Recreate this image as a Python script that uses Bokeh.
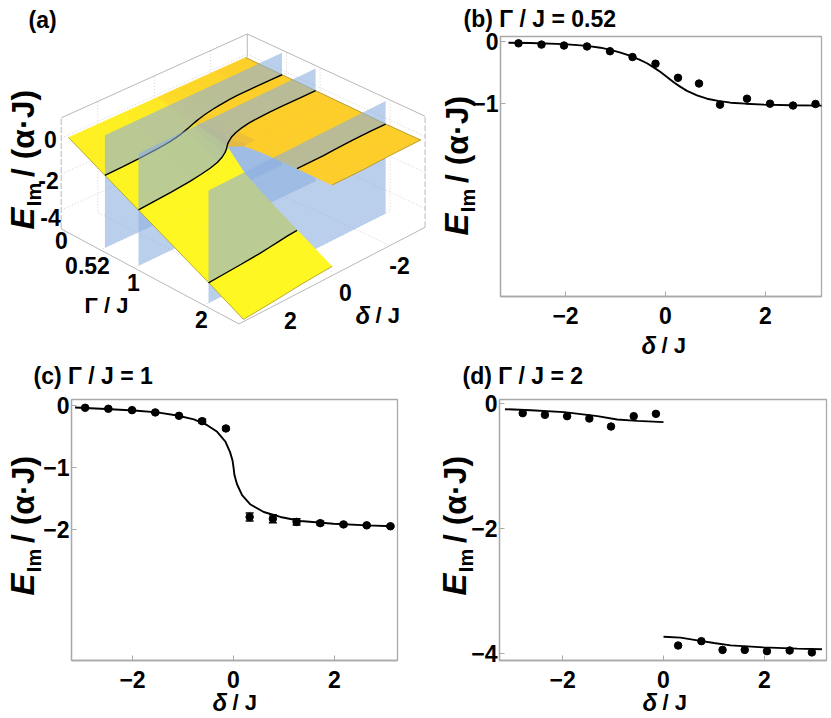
import math
from bokeh.plotting import figure
from bokeh.models import Label, FixedTicker, Range1d
from bokeh.embed import file_html
from bokeh.resources import INLINE

# ---------- data ----------
b_delta = [-2.94, -2.48, -2.03, -1.57, -1.11, -0.66, -0.20, 0.25, 0.67, 1.09, 1.63, 2.09, 2.55, 3.00]
b_E = [-0.03, -0.05, -0.065, -0.08, -0.157, -0.25, -0.357, -0.584, -0.676, -1.016, -0.92, -1.0, -1.03, -1.005]
b_curve_delta = [-3.14, -2.7, -2.03, -1.57, -1.3, -1.1, -0.9, -0.7, -0.5, -0.37, -0.23, -0.1, 0.03, 0.17, 0.3, 0.43, 0.63, 0.83, 1.05, 1.3, 1.6, 1.97, 2.5, 3.14]
b_curve_E = [-0.02, -0.024, -0.043, -0.07, -0.1, -0.135, -0.18, -0.232, -0.3, -0.35, -0.42, -0.49, -0.57, -0.66, -0.73, -0.795, -0.865, -0.92, -0.955, -0.984, -1.0, -1.016, -1.026, -1.032]

c_delta = [-2.94, -2.48, -2.01, -1.55, -1.08, -0.62, -0.15, 0.32, 0.78, 1.25, 1.72, 2.18, 2.64, 3.11]
c_E = [-0.043, -0.059, -0.081, -0.118, -0.172, -0.258, -0.376, -1.80, -1.83, -1.88, -1.90, -1.92, -1.935, -1.95]
c_err = [0.01, 0.01, 0.01, 0.015, 0.015, 0.03, 0.02, 0.065, 0.065, 0.05, 0.03, 0.02, 0.015, 0.015]
c_curve_delta = [-3.14, -2.63, -1.97, -1.51, -1.115, -0.785, -0.52, -0.323, -0.158, -0.07, -0.02, 0.0, 0.02, 0.07, 0.17, 0.337, 0.6, 0.93, 1.33, 1.98, 2.65, 3.14]
c_curve_E = [-0.038, -0.059, -0.086, -0.118, -0.167, -0.231, -0.323, -0.43, -0.59, -0.753, -0.887, -1.0, -1.13, -1.274, -1.45, -1.6, -1.72, -1.8, -1.866, -1.91, -1.935, -1.95]

d_delta = [-2.79, -2.35, -1.91, -1.47, -1.04, -0.59, -0.15, 0.29, 0.75, 1.17, 1.61, 2.05, 2.5, 2.94]
d_E = [-0.149, -0.176, -0.197, -0.235, -0.363, -0.197, -0.16, -3.87, -3.80, -3.94, -3.94, -3.96, -3.95, -3.98]
d_upper_delta = [-3.14, -2.63, -1.97, -1.31, -0.92, -0.52, 0.0]
d_upper_E = [-0.085, -0.101, -0.133, -0.197, -0.251, -0.272, -0.293]
d_lower_delta = [0.0, 0.337, 0.67, 1.0, 1.33, 1.98, 2.65, 3.14]
d_lower_E = [-3.73, -3.744, -3.787, -3.83, -3.867, -3.90, -3.92, -3.93]

# surface of panel (a): E on a grid of gamma rows and delta columns (0 appears twice: the two branches)
surf_delta = [-3.14, -2.0, -1.2, -0.7, -0.35, -0.1, 0.0, 0.0, 0.1, 0.35, 0.7, 1.2, 2.0, 3.14]
surf_gamma = [0.0, 0.52, 1.0, 1.25, 1.5, 2.0, 2.5]
surf_E = [
    [0.0] * 14,
    [-0.02, -0.045, -0.12, -0.23, -0.35, -0.47, -0.52, -0.52, -0.57, -0.69, -0.81, -0.92, -0.995, -1.02],
    [-0.035, -0.09, -0.15, -0.26, -0.41, -0.67, -1.0, -1.0, -1.33, -1.59, -1.74, -1.85, -1.91, -1.965],
    [-0.05, -0.11, -0.2, -0.31, -0.42, -0.49, -0.5, -2.0, -2.01, -2.08, -2.19, -2.3, -2.39, -2.45],
    [-0.06, -0.12, -0.22, -0.3, -0.36, -0.38, -0.38, -2.62, -2.62, -2.64, -2.7, -2.78, -2.88, -2.94],
    [-0.085, -0.15, -0.24, -0.27, -0.285, -0.29, -0.29, -3.71, -3.71, -3.715, -3.73, -3.76, -3.85, -3.915],
    [-0.07, -0.13, -0.2, -0.22, -0.23, -0.235, -0.24, -4.76, -4.765, -4.77, -4.78, -4.8, -4.87, -4.93],
]
plane_gamma = [0.52, 1.0, 2.0]
plane_top_E = 1.2
plane_bottom_E = -5.05
gamma_ticks = [0.52, 1.0, 2.0]
delta_ticks = [-2, 0, 2]
E_ticks = [0, -2, -4]

FONT = "Liberation Sans"
GREY = "#a9a9a9"
BLUE = "#8cafdf"


def proj(g, d, e):
    x = 68 + 70 * g + 28.2 * (3.14 - d)
    y = 57 + 12.74 * (d + 3.14) + (32.5 + 0.76 * (d + 3.14)) * g - 18 * e
    y -= 4 * min(max(g, 0), 1) * max(0, 1 - abs(d) / 3.14)
    return x, y


def poly(pts):
    xs, ys = zip(*[proj(*q) for q in pts])
    return list(xs), list(ys)


def mix(c0, c1, t):
    return tuple(c0[i] + (c1[i] - c0[i]) * t for i in range(3))


def surf_color(g, d):
    w = min(g, 1.0)
    t0 = (3.14 - d) / 6.28
    step = 1.0 if d < 0 else 0.0
    t = max(t0 * (1 - w) + step * w, 0.2 * (1 - w))
    c = mix((255, 247, 33), (253, 205, 42), t)
    near = math.hypot(g - 1.0, d * 0.8)
    if d < 0 or g < 1:
        c = mix(c, (175, 145, 125), max(0.0, 1 - near / 0.35) * 0.5)
    return "#%02x%02x%02x" % tuple(int(v) for v in c)


def pos(p, left, top):
    p.styles = {"position": "absolute", "left": f"{left}px", "top": f"{top}px"}


# ---------- panel (a) ----------
A_W, A_H = 433, 358
pa = figure(width=A_W, height=A_H, output_backend="svg", toolbar_location=None,
            x_range=Range1d(0, A_W), y_range=Range1d(A_H, 0),
            x_axis_location=None, y_axis_location=None, min_border=0,
            outline_line_color=None)
pa.grid.visible = False
pos(pa, 0, 0)

GL, GH, DL, DH, EL, EH = -0.04, 2.5, -3.3, 3.3, -5.05, 1.12
# faint grids
for e in E_ticks:
    x, y = poly([(GL, DH, e), (GL, DL, e), (GH, DL, e)])
    pa.line(x, y, line_color="#c8c8c8", line_width=0.8, line_dash="1 2")
for g in gamma_ticks:
    x, y = poly([(g, DH, EL), (g, DL, EL), (g, DL, EH)])
    pa.line(x, y, line_color="#c8c8c8", line_width=0.8, line_dash="1 2")
for d in delta_ticks:
    x, y = poly([(GH, d, EL), (GL, d, EL), (GL, d, EH)])
    pa.line(x, y, line_color="#c8c8c8", line_width=0.8, line_dash="1 2")
# box
for seg in [[(GL, DH, EH), (GL, DL, EH), (GH, DL, EH)],
            [(GL, DH, EL), (GH, DH, EL), (GH, DL, EL)],
            [(GL, DL, EH), (GL, DL, EH - 1.3)]]:
    x, y = poly(seg)
    pa.line(x, y, line_color="#b8b8b8", line_width=1)
for seg in [[(GL, DH, EL), (GL, DH, EH)], [(GH, DL, EL), (GH, DL, EH)]]:
    x, y = poly(seg)
    pa.line(x, y, line_color="#b8b8b8", line_width=1, line_dash="6 2")

curves = {0.52: (b_curve_delta, b_curve_E),
          1.0: (c_curve_delta, c_curve_E),
          2.0: (d_upper_delta + d_lower_delta, d_upper_E + d_lower_E)}

# parts of the planes below the surface
for g in plane_gamma:
    cd, ce = curves[g]
    x, y = poly([(g, a, b) for a, b in zip(cd, ce)] + [(g, 3.14, plane_bottom_E), (g, -3.14, plane_bottom_E)])
    pa.patch(x, y, fill_color=BLUE, fill_alpha=0.6, line_color=None)

# surface
xs, ys, cols = [], [], []
for i in range(len(surf_gamma) - 1):
    for j in range(len(surf_delta) - 1):
        if surf_delta[j] == surf_delta[j + 1] and surf_gamma[i] >= 1.0:
            continue
        x, y = poly([(surf_gamma[i], surf_delta[j], surf_E[i][j]),
                     (surf_gamma[i], surf_delta[j + 1], surf_E[i][j + 1]),
                     (surf_gamma[i + 1], surf_delta[j + 1], surf_E[i + 1][j + 1]),
                     (surf_gamma[i + 1], surf_delta[j], surf_E[i + 1][j])])
        xs.append(x)
        ys.append(y)
        cols.append(surf_color((surf_gamma[i] + surf_gamma[i + 1]) / 2, (surf_delta[j] + surf_delta[j + 1]) / 2))
pa.patches(xs, ys, fill_color=cols, line_color=cols, line_width=0.6)

# thin rim of the sheets
rim = [[(g, -3.14, r[0]) for g, r in zip(surf_gamma, surf_E)] +
       [(2.5, d, e) for d, e in zip(surf_delta[:7], surf_E[-1][:7])],
       [(2.5, d, e) for d, e in zip(surf_delta[7:], surf_E[-1][7:])] +
       [(g, 3.14, r[-1]) for g, r in zip(surf_gamma[::-1], surf_E[::-1])]]
for part in rim:
    x, y = poly(part)
    pa.line(x, y, line_color="#8a7a30", line_width=0.6)

# parts of the planes above the surface, nearest last, with their curves
for g in plane_gamma:
    cd, ce = curves[g]
    x, y = poly([(g, a, b) for a, b in zip(cd, ce)] + [(g, 3.14, plane_top_E), (g, -3.14, plane_top_E)])
    pa.patch(x, y, fill_color=BLUE, fill_alpha=0.6, line_color=None)
    if g == 2.0:
        x, y = poly([(g, a, b) for a, b in zip(d_upper_delta, d_upper_E)])
        pa.line(x, y, line_color="#000000", line_width=1.4)
        x, y = poly([(g, a, b) for a, b in zip(d_lower_delta, d_lower_E)])
        pa.line(x, y, line_color="#000000", line_width=1.4)
    else:
        x, y = poly([(g, a, b) for a, b in zip(cd, ce)])
        pa.line(x, y, line_color="#000000", line_width=1.4)


# ---------- panels (b), (c), (d) ----------
def make(fx, fy, w, h, left, right, top, bottom, xr, yr, yticks):
    p = figure(width=w, height=h, output_backend="svg", toolbar_location=None,
               x_range=Range1d(*xr), y_range=Range1d(*yr),
               min_border_left=left, min_border_right=right, min_border_top=top, min_border_bottom=bottom,
               outline_line_color=GREY, outline_line_width=1.3)
    p.grid.visible = False
    p.xaxis.ticker = FixedTicker(ticks=[-2, 0, 2])
    p.yaxis.ticker = FixedTicker(ticks=yticks)
    p.xaxis.major_label_overrides = {-2: "−2", 0: "0", 2: "2"}
    p.yaxis.major_label_overrides = {t: str(t).replace("-", "−") for t in yticks}
    for ax in (p.xaxis[0], p.yaxis[0]):
        ax.axis_line_color = GREY
        ax.axis_line_width = 1.3
        ax.major_tick_line_color = GREY
        ax.major_tick_line_width = 1
        ax.major_tick_in = 5
        ax.major_tick_out = 0
        ax.minor_tick_line_color = None
        ax.major_label_text_font = FONT
        ax.major_label_text_font_style = "bold"
        ax.major_label_text_font_size = "23px"
        ax.major_label_text_color = "#000000"
    p.xaxis.major_label_standoff = 10
    p.yaxis.major_label_standoff = 2
    pos(p, fx, fy)
    return p


pb = make(433, 0, 396, 358, 67, 8, 36, 62, (-3.3, 3.12), (-4.1, 0.08), [0, -1])
pc = make(0, 358, 433, 360, 71, 36, 41, 58, (-3.21, 3.25), (-4.11, 0.09), [0, -1, -2])
pd = make(433, 358, 396, 360, 66, 3, 41, 58, (-3.25, 3.23), (-4.11, 0.07), [0, -2, -4])

pb.line(b_curve_delta, b_curve_E, line_color="#000000", line_width=1.9)
pb.scatter(b_delta, b_E, size=7.5, color="#000000")
pc.line(c_curve_delta, c_curve_E, line_color="#000000", line_width=1.9)
pc.segment(c_delta, [e - r for e, r in zip(c_E, c_err)], c_delta, [e + r for e, r in zip(c_E, c_err)],
           line_color="#000000", line_width=1.5)
for sign in (-1, 1):
    pc.scatter(c_delta, [e + sign * r for e, r in zip(c_E, c_err)], marker="dash", size=8, line_color="#000000", line_width=1.5)
pc.scatter(c_delta, c_E, size=7.5, color="#000000")
pd.line(d_upper_delta, d_upper_E, line_color="#000000", line_width=1.9)
pd.line(d_lower_delta, d_lower_E, line_color="#000000", line_width=1.9)
pd.scatter(d_delta, d_E, size=7.5, color="#000000")

# ---------- transparent sheet over the whole page for the texts outside the frames ----------
pt = figure(width=831, height=718, output_backend="svg", toolbar_location=None,
            x_range=Range1d(0, 831), y_range=Range1d(718, 0),
            x_axis_location=None, y_axis_location=None, min_border=0,
            outline_line_color=None, background_fill_color=None, border_fill_color=None)
pt.grid.visible = False
pos(pt, 0, 0)


def put(x, y, s, size=22, style="bold", align="left", baseline="middle", angle=0):
    pt.add_layout(Label(x=x, y=y, text=s, text_font=FONT, text_font_size=f"{size}px", text_font_style=style,
                        text_color="#000000", text_align=align, text_baseline=baseline, angle=angle))


def ylabel(x, bottom):
    up = math.pi / 2
    put(x, bottom - 11, "E", 33, "bold italic", "center", "middle", up)
    put(x + 11, bottom - 35, "Im", 20, "bold", "center", "middle", up)
    put(x, bottom - 96, "/ (α·J)", 32, "bold", "center", "middle", up)


def xlabel(x, y):
    put(x, y, "δ", 24, "bold italic")
    put(x + 20, y, "/ J", 22)


put(28, 19, "(a)", 23)
for lx, ly, s in [(50, 139, "0"), (48, 180, "-2"), (50, 217, "-4"),
                  (61, 240, "0"), (87, 265, "0.52"), (133, 282, "1"), (201, 319, "2"),
                  (290, 320, "2"), (345, 292, "0"), (399, 265, "-2")]:
    put(lx, ly, s, 23, align="center")
put(106, 305, "Γ / J", 22, align="center")
xlabel(355, 315)
ylabel(22, 229)

put(463, 18, "(b) Γ / J = 0.52", 23)
ylabel(456, 235)
xlabel(641, 345)
put(33, 375, "(c) Γ / J = 1", 23)
ylabel(22, 595)
xlabel(212, 702)
put(462, 375, "(d) Γ / J = 2", 23)
ylabel(454, 595)
xlabel(642, 702)

open("out.html", "w").write(file_html([pa, pb, pc, pd, pt], INLINE))
